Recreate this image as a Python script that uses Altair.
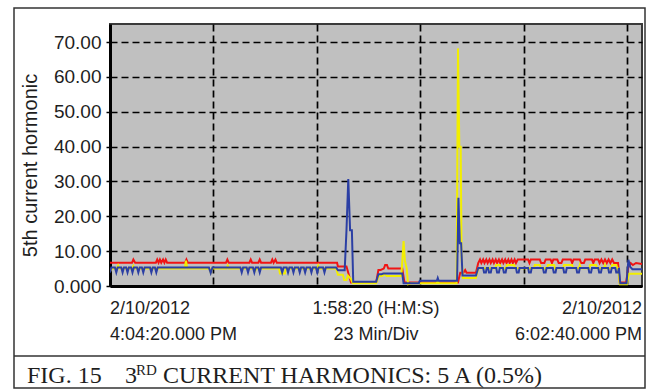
import altair as alt
import pandas as pd

# time in minutes after 4:04:20 PM (span 1:58:20), values = 5th current harmonic
RED = [(0.0, 6.7), (4.9, 6.7), (5.2, 7.6), (5.6, 6.7), (10.2, 6.7), (10.5, 7.6), (10.8, 6.7),
       (11.1, 7.6), (11.4, 6.7), (11.8, 7.6), (12.1, 6.7), (12.4, 7.6), (12.7, 6.7),
       (16.7, 6.7), (17.0, 7.6), (17.3, 6.7), (25.8, 6.7), (26.1, 7.6), (26.4, 6.7),
       (31.0, 6.7), (31.3, 7.6), (31.6, 6.7), (33.0, 6.7), (33.3, 7.6), (33.6, 6.7),
       (35.8, 6.7), (36.1, 7.6), (36.4, 6.7), (36.8, 7.6), (37.1, 6.7), (50.5, 6.7),
       (50.7, 5.6), (52.6, 5.6), (53.6, 1.0), (59.2, 1.0), (59.7, 4.6), (60.2, 4.6),
       (60.9, 5.0), (61.2, 6.0), (61.6, 6.0), (61.9, 5.0), (65.0, 5.0), (65.5, 1.0),
       (77.4, 1.0), (77.9, 3.8), (78.6, 3.8), (79.0, 4.6), (79.3, 3.8), (81.4, 3.8),
       (81.9, 6.6), (82.3, 7.6), (82.6, 6.6), (83.0, 7.6), (83.3, 6.6), (83.7, 7.6),
       (84.0, 6.6), (84.4, 7.6), (84.7, 6.6), (85.1, 7.6), (85.4, 6.6), (85.8, 7.6),
       (86.1, 6.6), (86.5, 7.6), (86.8, 6.6), (87.2, 7.6), (87.5, 6.6), (87.9, 7.6),
       (88.2, 6.6), (88.6, 7.6), (88.9, 6.6), (89.3, 7.6), (89.6, 6.6), (90.0, 7.6),
       (90.3, 6.6), (90.7, 7.6), (93.0, 7.6), (93.3, 6.6), (93.6, 7.6), (95.6, 7.6),
       (95.9, 6.6), (96.6, 6.6), (96.9, 7.6), (98.0, 7.6), (98.3, 6.6), (98.6, 7.6),
       (99.5, 7.6), (99.8, 6.6), (100.4, 6.6), (100.7, 7.6), (102.5, 7.6), (102.8, 6.6),
       (103.1, 7.6), (104.5, 7.6), (104.8, 6.6), (105.4, 6.6), (105.7, 7.6), (107.2, 7.6),
       (107.5, 6.6), (107.8, 7.6), (108.6, 7.6), (108.9, 6.6), (109.3, 7.6), (109.7, 6.6),
       (110.1, 7.6), (110.5, 6.6), (110.9, 7.6), (111.3, 6.6), (111.7, 7.6), (112.1, 6.6),
       (113.0, 6.6), (113.4, 1.0), (114.8, 1.0), (115.3, 5.5), (115.8, 6.6), (116.3, 6.0),
       (117.0, 6.6), (118.33, 6.3)]

YELLOW = [(0.0, 4.2), (0.4, 5.0), (1.5, 5.0), (1.8, 5.9), (2.1, 5.0), (4.9, 5.0), (5.2, 5.8),
          (5.5, 5.0), (16.6, 5.0), (16.9, 7.3), (17.2, 5.0), (22.1, 5.0), (22.4, 3.9),
          (22.7, 5.0), (25.9, 5.0), (26.2, 5.9), (26.5, 5.0), (32.0, 5.0), (32.3, 4.4),
          (32.6, 5.0), (37.6, 5.0), (37.8, 3.6), (38.9, 3.6), (39.1, 5.0), (46.0, 5.0),
          (46.3, 5.9), (46.6, 5.0), (50.3, 5.0), (50.7, 3.2), (51.8, 3.2), (52.1, 1.7),
          (52.6, 1.7), (52.9, 3.0), (53.6, 2.0), (54.0, 0.8), (59.2, 0.8), (59.8, 2.9),
          (60.6, 2.9), (61.0, 3.5), (61.5, 2.9), (64.8, 2.9), (65.3, 12.9), (65.6, 7.2),
          (66.0, 5.0), (66.3, 0.5), (67.0, 0.8), (72.7, 0.8), (72.9, 1.8), (73.1, 0.8),
          (77.1, 0.8), (77.4, 68.2), (77.7, 40.0), (78.0, 40.0), (78.2, 8.0), (78.5, 2.3),
          (81.4, 2.3), (81.9, 5.1), (85.7, 5.1), (85.9, 6.0), (86.7, 6.0), (86.9, 5.1),
          (88.1, 5.1), (88.3, 6.0), (89.9, 6.0), (90.1, 5.1), (94.3, 5.1), (94.5, 6.0),
          (95.6, 6.0), (95.8, 5.1), (97.2, 5.1), (97.4, 6.0), (98.8, 6.0), (99.0, 5.1),
          (100.8, 5.1), (101.0, 6.0), (102.8, 6.0), (103.0, 5.1), (104.3, 5.1), (104.5, 6.0),
          (104.7, 5.1), (106.6, 5.1), (106.8, 6.0), (108.1, 6.0), (108.3, 5.1), (109.9, 5.1),
          (110.1, 6.0), (110.3, 5.1), (111.5, 5.1), (111.7, 6.0), (112.6, 6.0), (112.8, 5.1),
          (113.0, 5.1), (113.4, 0.5), (115.0, 0.5), (115.4, 3.5), (118.33, 3.5)]

BLUE = [(0.0, 3.9), (0.3, 5.3), (1.1, 5.3), (1.4, 3.9), (1.7, 5.3), (2.5, 5.3), (2.8, 3.9),
        (3.1, 5.3), (3.6, 5.3), (3.9, 3.9), (4.2, 5.3), (4.7, 5.3), (5.0, 3.9), (5.3, 5.3),
        (6.0, 5.3), (6.3, 3.9), (6.6, 5.3), (7.1, 5.3), (7.4, 3.9), (7.7, 5.3), (8.9, 5.3),
        (9.2, 3.9), (9.5, 5.3), (10.0, 5.3), (10.3, 3.9), (10.6, 5.3), (22.0, 5.3),
        (22.4, 3.7), (22.8, 5.3), (29.0, 5.3), (29.3, 3.9), (29.6, 5.3), (30.4, 5.3),
        (30.7, 3.9), (31.0, 5.3), (31.8, 5.3), (32.1, 3.9), (32.4, 5.3), (33.0, 5.3),
        (33.3, 3.9), (33.6, 5.3), (38.0, 5.3), (38.3, 3.9), (38.6, 5.3), (39.3, 5.3),
        (39.6, 3.9), (39.9, 5.3), (40.5, 5.3), (40.8, 3.9), (41.1, 5.3), (41.9, 5.3),
        (42.2, 3.9), (42.5, 5.3), (43.1, 5.3), (43.4, 3.9), (43.7, 5.3), (44.5, 5.3),
        (44.8, 3.9), (45.1, 5.3), (45.8, 5.3), (46.1, 3.9), (46.4, 5.3), (47.4, 5.3),
        (47.7, 3.9), (48.0, 5.3), (50.3, 5.3), (50.7, 4.5), (52.2, 4.5), (52.6, 16.0),
        (53.0, 30.7), (53.4, 16.0), (53.8, 16.0), (54.1, 1.2), (59.2, 1.2), (59.7, 3.4),
        (60.4, 3.4), (60.8, 3.6), (65.0, 3.6), (65.3, 0.8), (68.7, 0.8), (68.9, 1.5),
        (72.7, 1.5), (72.9, 2.3), (73.1, 1.5), (77.2, 1.5), (77.5, 25.3), (77.8, 12.3),
        (78.1, 12.3), (78.4, 3.0), (81.4, 3.0), (81.9, 5.2),
        (83.0, 5.2), (83.2, 3.9), (83.6, 3.9), (83.8, 5.2), (84.1, 5.2), (84.3, 3.9),
        (84.7, 3.9), (84.9, 5.2), (85.9, 5.2), (86.1, 3.9), (86.5, 3.9), (86.7, 5.2),
        (87.4, 5.2), (87.6, 3.9), (88.0, 3.9), (88.2, 5.2), (90.3, 5.2), (90.5, 3.9),
        (90.9, 3.9), (91.1, 5.2), (93.0, 5.2), (93.2, 3.9), (93.6, 3.9), (93.8, 5.2),
        (96.3, 5.2), (96.5, 3.9), (96.9, 3.9), (97.1, 5.2), (98.5, 5.2), (98.7, 3.9),
        (99.1, 3.9), (99.3, 5.2), (100.8, 5.2), (101.0, 3.9), (101.4, 3.9), (101.6, 5.2),
        (103.7, 5.2), (103.9, 3.9), (104.3, 3.9), (104.5, 5.2), (106.4, 5.2), (106.6, 3.9),
        (107.0, 3.9), (107.2, 5.2), (108.6, 5.2), (108.8, 3.9), (109.2, 3.9), (109.4, 5.2),
        (110.8, 5.2), (111.0, 3.9), (111.4, 3.9), (111.6, 5.2), (112.4, 5.2), (112.6, 3.9),
        (113.0, 3.9), (113.2, 5.2), (113.5, 0.8), (114.9, 0.8), (115.3, 7.5), (115.7, 5.5),
        (116.2, 4.8), (118.33, 4.8)]

X_MAX = 118.33          # 1:58:20 span in minutes
Y_MAX = 75.2
GRID_X = [23, 46, 69, 92, 115]   # 23 Min/Div
Y_TICKS = [0, 10, 20, 30, 40, 50, 60, 70]
X_LABEL_POS = [0.0, 59.17, 118.33]
X_LABEL_TEXT = ["2/10/2012|4:04:20.000 PM", "1:58:20 (H:M:S)|23 Min/Div", "2/10/2012|6:02:40.000 PM"]
Y_TITLE = "5th current hormonic"

SANS = "Liberation Sans"
SERIF = "Liberation Serif"
TXT = "#1e1e1e"

W, H = 532, 262
xs = alt.Scale(domain=[0, X_MAX], nice=False, zero=False)
ys = alt.Scale(domain=[0, Y_MAX], nice=False)

XA = alt.Axis(values=GRID_X, labels=False, ticks=False, title=None, grid=True,
              gridDash=[7, 4], gridColor="black", gridWidth=1.7, gridOpacity=1,
              domainColor="black", domainWidth=3)
YA = alt.Axis(values=Y_TICKS, grid=True, gridDash=[7, 4], gridColor="black",
              gridWidth=1.7, gridOpacity=1, domainColor="black", domainWidth=3,
              labelExpr="datum.value == 0 ? '0.000' : format(datum.value, '.2f')",
              labelFont=SANS, labelFontSize=19, labelColor=TXT, labelPadding=5,
              tickSize=4, tickColor="black", tickWidth=1.5,
              title=Y_TITLE, titleFont=SANS, titleFontSize=20, titleFontWeight="normal",
              titleColor=TXT, titleX=-80, titleY=141, titleAlign="center",
              titleBaseline="middle", titleAngle=270)


def line(data, color):
    df = pd.DataFrame(data, columns=["t", "v"])
    return alt.Chart(df).mark_line(color=color, strokeWidth=2, clip=True).encode(
        x=alt.X("t:Q", scale=xs, axis=XA),
        y=alt.Y("v:Q", scale=ys, axis=YA),
        order="t:Q",
    )


one = pd.DataFrame({"a": [0]})

lab_df = pd.DataFrame({"t": X_LABEL_POS, "s": X_LABEL_TEXT})
def xlab(i, align):
    return alt.Chart(lab_df.iloc[[i]]).mark_text(
        align=align, baseline="middle", font=SANS, fontSize=18, color=TXT,
        lineBreak="|", lineHeight=26,
    ).encode(x=alt.X("t:Q", scale=xs, axis=XA), y=alt.value(285), text="s:N")

frame = alt.Chart(one).mark_rect(fill=None, stroke="#333333", strokeWidth=1.5).encode(
    x=alt.value(-96), x2=alt.value(535), y=alt.value(-16), y2=alt.value(364))
sep = alt.Chart(one).mark_rule(stroke="#333333", strokeWidth=1.5).encode(
    x=alt.value(-96), x2=alt.value(535), y=alt.value(332))

def cap(text, x, y, size):
    return alt.Chart(one).mark_text(align="left", baseline="alphabetic", font=SERIF,
                                     fontSize=size, color=TXT).encode(
        x=alt.value(x), y=alt.value(y), text=alt.value(text))

chart = alt.layer(
    line(RED, "#f01414"),
    line(YELLOW, "#f2ee00"),
    line(BLUE, "#2b3fa4"),
    xlab(0, "left"), xlab(1, "center"), xlab(2, "right"),
    frame, sep,
    cap("FIG. 15", -83, 359, 24),
    cap("3", 15, 359, 24),
    cap("RD", 26, 351, 15),
    cap("CURRENT HARMONICS: 5 A (0.5%)", 53, 359, 24),
).properties(
    width=W, height=H,
    autosize=alt.AutoSizeParams(type="none"),
    padding={"left": 110, "top": 24, "right": 12, "bottom": 104},
    background="white",
).configure_view(
    fill="#c0c0c0", stroke="#3a3a3a", strokeWidth=2,
)

chart.save("out.html", embed_options={"renderer": "svg", "actions": False})
